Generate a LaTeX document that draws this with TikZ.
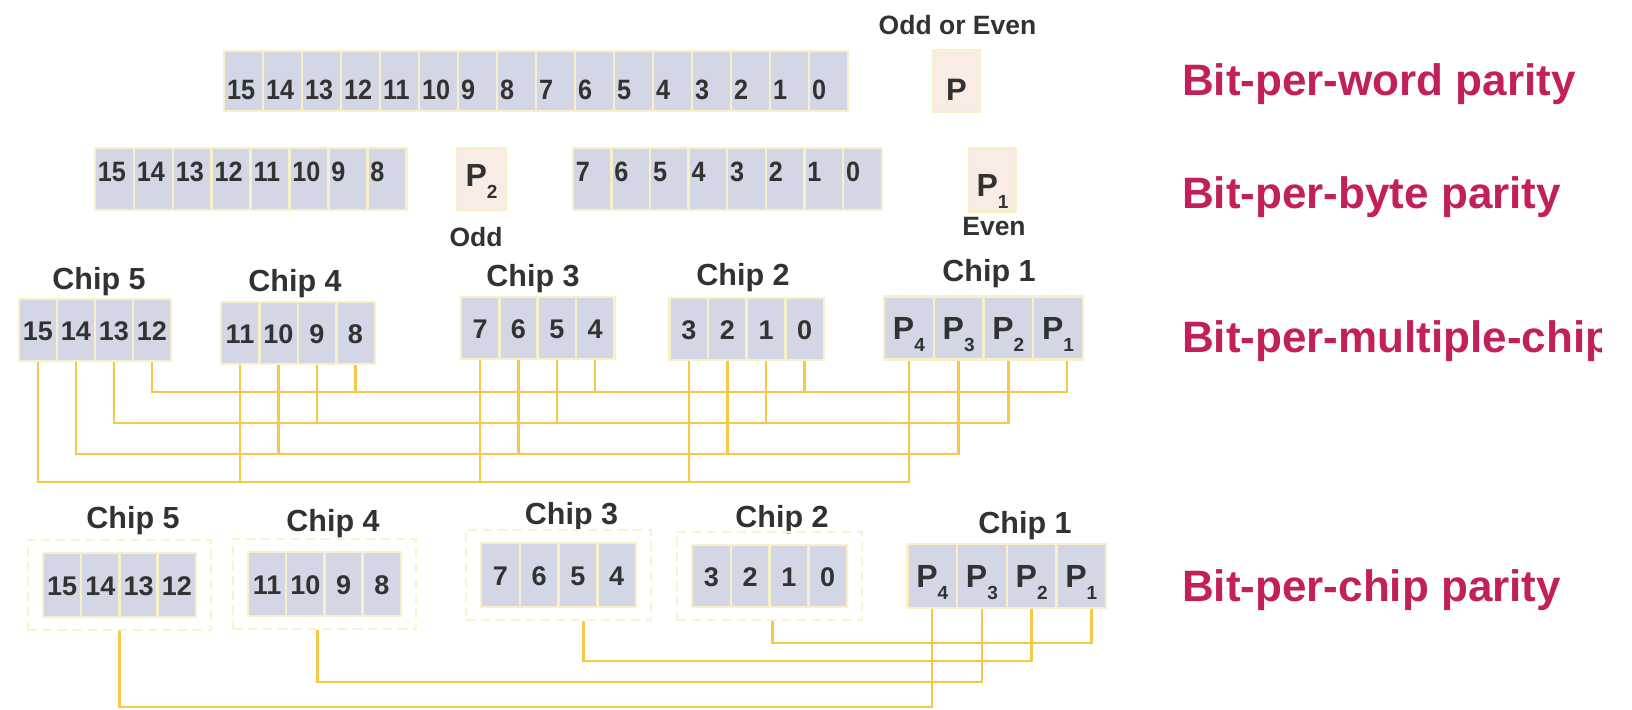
\documentclass[tikz,border=0pt]{standalone}
\usepackage{fontspec}
\setmainfont{Liberation Sans}
\newfontfamily\narrowsans[FakeStretch=0.9]{Liberation Sans}
\usetikzlibrary{fit}

\definecolor{cellblue}{RGB}{211,215,229}
\definecolor{cellrim}{RGB}{247,240,200}
\definecolor{parfill}{RGB}{248,236,228}
\definecolor{framecol}{RGB}{250,242,205}
\definecolor{wiregold}{RGB}{246,200,72}
\definecolor{titlered}{RGB}{194,32,90}
\definecolor{ink}{RGB}{50,50,50}

\newcommand{\pbit}[1]{P\raisebox{-12pt}{\fontsize{19}{19}\selectfont #1}}

\begin{document}
\begin{tikzpicture}[x=1pt,y=-1pt,
  cell/.style={draw=cellrim,line width=2.5pt,fill=cellblue,inner sep=0pt,minimum height=62pt,
    text=ink,font=\fontsize{27}{27}\selectfont\bfseries,text height=21pt,text depth=0pt},
  narrowcell/.style={cell,font=\fontsize{28}{28}\selectfont\narrowsans\bfseries,
    text width=33pt,align=left,inner xsep=3pt},
  wcell/.style={narrowcell,minimum width=39pt,minimum height=60pt,text height=36.6pt},
  bcell/.style={narrowcell,minimum width=38.9pt,text height=20pt,text depth=14.6pt},
  pcell/.style={cell,fill=parfill,font=\fontsize{32}{32}\selectfont\bfseries},
  bigp/.style={cell,font=\fontsize{32}{32}\selectfont\bfseries,text height=23pt,minimum height=63pt},
  chipframe/.style={draw=framecol,line width=2.2pt,dash pattern=on 9pt off 6pt,inner xsep=14pt,inner ysep=12pt},
  wire/.style={draw=wiregold,line width=2.4pt},
  tag/.style={anchor=base west,inner sep=0pt,text=titlered,font=\fontsize{44}{44}\selectfont\bfseries},
  chiplabel/.style={anchor=base,inner sep=0pt,text=ink,font=\fontsize{30.5}{30.5}\selectfont\bfseries},
  note/.style={anchor=base,inner sep=0pt,text=ink,font=\fontsize{26.5}{26.5}\selectfont\bfseries}]
\useasboundingbox (0,0) rectangle (1632,709);

% bit-per-word parity
\node[note] (oe) at (957.5,34.3) {Odd or Even};
\foreach \b [count=\i from 0] in {15,14,...,0}
  \node[wcell] (w\b) at ({243.5+39*\i},81) {\b};
\node[pcell,minimum width=47pt,text height=38pt,font=\fontsize{31}{31}\selectfont\bfseries] (wP) at (956.5,81) {P};
\node[tag] (t1) at (1182,95) {Bit-per-word parity};

% bit-per-byte parity
\foreach \b [count=\i from 0] in {15,14,...,8}
  \node[bcell] (y\b) at ({114.45+38.9*\i},179) {\b};
\foreach \b [count=\i from 0] in {7,6,...,0}
  \node[bcell,minimum width=38.6pt] (y\b) at ({592.3+38.6*\i},179) {\b};
\node[pcell,minimum width=49pt,text height=20pt,text depth=4.6pt] (yP2) at (481.5,179) {\pbit{2}};
\node[pcell,minimum width=47pt,minimum height=63pt,text height=34pt,text depth=0.6pt] (yP1) at (992.5,180) {\pbit{1}};
\node[note] (odd) at (476,246) {Odd};
\node[note] (even) at (994,235) {Even};
\node[tag] (t2) at (1182,208.7) {Bit-per-byte parity};

% bit-per-multiple-chip parity
\node[chiplabel] (mc5) at (99,289.9) {Chip 5};
\node[chiplabel] (mc4) at (295,291.9) {Chip 4};
\node[chiplabel] (mc3) at (533,286.9) {Chip 3};
\node[chiplabel] (mc2) at (743,285.4) {Chip 2};
\node[chiplabel] (mc1) at (989,281.7) {Chip 1};
\foreach \b [count=\i from 0] in {15,14,13,12}
  \node[cell,minimum width=38pt] (m\b) at ({38+38*\i},330) {\b};
\foreach \b [count=\i from 0] in {11,10,9,8}
  \node[cell,minimum width=38.5pt] (m\b) at ({240+38.5*\i},333) {\b};
\foreach \b [count=\i from 0] in {7,6,5,4}
  \node[cell,minimum width=38.3pt] (m\b) at ({480.2+38.3*\i},328) {\b};
\foreach \b [count=\i from 0] in {3,2,1,0}
  \node[cell,minimum width=38.6pt] (m\b) at ({688.8+38.6*\i},329) {\b};
\foreach \b [count=\i from 0] in {4,3,2,1}
  \node[bigp,minimum width=49.7pt] (mP\b) at ({908.9+49.7*\i},328) {\pbit{\b}};
\begin{scope}
\clip (0,0) rectangle (1601,709);
\node[tag] (t3) at (1182,352.5) {Bit-per-multiple-chip};
\end{scope}

\coordinate (r1) at (0,392);
\coordinate (r2) at (0,423);
\coordinate (r3) at (0,454);
\coordinate (r4) at (0,482);
\draw[wire] (m12.south) -- (m12.south |- r1) -| ([xshift=9pt]mP1.south);
\draw[wire] (m13.south) -- (m13.south |- r2) -| (mP2.south);
\draw[wire] (m14.south) -- (m14.south |- r3) -| (mP3.south);
\draw[wire] (m15.south) -- (m15.south |- r4) -| (mP4.south);
\foreach \b in {8,4,0} \draw[wire] (m\b.south) -- (m\b.south |- r1);
\foreach \b in {9,5,1} \draw[wire] (m\b.south) -- (m\b.south |- r2);
\foreach \b in {10,6,2} \draw[wire] (m\b.south) -- (m\b.south |- r3);
\foreach \b in {11,7,3} \draw[wire] (m\b.south) -- (m\b.south |- r4);

% bit-per-chip parity
\node[chiplabel] (qc5) at (133,528.3) {Chip 5};
\node[chiplabel] (qc4) at (333,531.4) {Chip 4};
\node[chiplabel] (qc3) at (571.5,524.9) {Chip 3};
\node[chiplabel] (qc2) at (782,527.9) {Chip 2};
\node[chiplabel] (qc1) at (1025,533.3) {Chip 1};
\foreach \b [count=\i from 0] in {15,14,13,12}
  \node[cell,minimum width=38.25pt,minimum height=64pt] (q\b) at ({62.1+38.25*\i},585) {\b};
\foreach \b [count=\i from 0] in {11,10,9,8}
  \node[cell,minimum width=38.25pt,minimum height=64pt] (q\b) at ({267.1+38.25*\i},584) {\b};
\foreach \b [count=\i from 0] in {7,6,5,4}
  \node[cell,minimum width=38.75pt,minimum height=64pt] (q\b) at ({500.4+38.75*\i},575) {\b};
\foreach \b [count=\i from 0] in {3,2,1,0}
  \node[cell,minimum width=38.75pt] (q\b) at ({711.4+38.75*\i},576) {\b};
\foreach \b [count=\i from 0] in {4,3,2,1}
  \node[bigp,minimum width=49.7pt,minimum height=64pt] (qP\b) at ({932.2+49.7*\i},576) {\pbit{\b}};
\node[chipframe,fit=(q15)(q12)] (g5) {};
\node[chipframe,fit=(q11)(q8)] (g4) {};
\node[chipframe,fit=(q7)(q4)] (g3) {};
\node[chipframe,fit=(q3)(q0)] (g2) {};
\node[tag] (t4) at (1182,601) {Bit-per-chip parity};

\coordinate (s1) at (0,643);
\coordinate (s2) at (0,661);
\coordinate (s3) at (0,682);
\coordinate (s4) at (0,707);
\draw[wire] ([xshift=3pt]g2.south) -- ([xshift=3pt]g2.south |- s1) -| ([xshift=10pt]qP1.south);
\draw[wire] ([xshift=25pt]g3.south) -- ([xshift=25pt]g3.south |- s2) -| (qP2.south);
\draw[wire] ([xshift=-7pt]g4.south) -- ([xshift=-7pt]g4.south |- s3) -| (qP3.south);
\draw[wire] (g5.south) -- (g5.south |- s4) -| (qP4.south);

\end{tikzpicture}
\end{document}
